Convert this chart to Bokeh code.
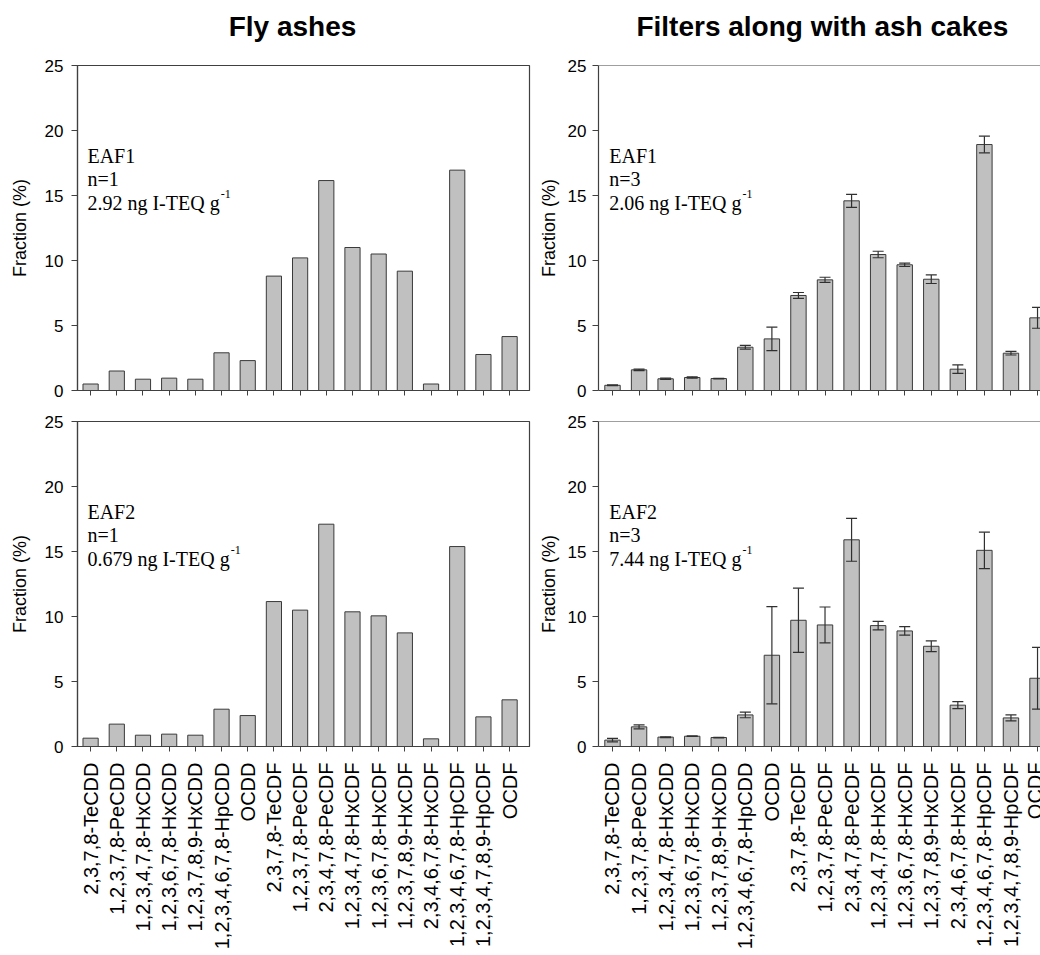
from bokeh.plotting import figure
from bokeh.models import (Range1d, FixedTicker, Label, Whisker, TeeHead,
                          ColumnDataSource, Span)
from bokeh.layouts import column, row
from bokeh.embed import file_html
from bokeh.resources import INLINE
import math

# ---------------- data ----------------
congeners = ["2,3,7,8-TeCDD", "1,2,3,7,8-PeCDD", "1,2,3,4,7,8-HxCDD",
             "1,2,3,6,7,8-HxCDD", "1,2,3,7,8,9-HxCDD", "1,2,3,4,6,7,8-HpCDD",
             "OCDD", "2,3,7,8-TeCDF", "1,2,3,7,8-PeCDF", "2,3,4,7,8-PeCDF",
             "1,2,3,4,7,8-HxCDF", "1,2,3,6,7,8-HxCDF", "1,2,3,7,8,9-HxCDF",
             "2,3,4,6,7,8-HxCDF", "1,2,3,4,6,7,8-HpCDF", "1,2,3,4,7,8,9-HpCDF",
             "OCDF"]

fly_eaf1 = [0.5, 1.5, 0.87, 0.95, 0.87, 2.9, 2.3, 8.8, 10.2, 16.15,
            11.0, 10.5, 9.18, 0.5, 16.95, 2.77, 4.15]
fly_eaf2 = [0.64, 1.72, 0.87, 0.95, 0.87, 2.87, 2.38, 11.15, 10.49, 17.1,
            10.36, 10.05, 8.74, 0.59, 15.38, 2.28, 3.59]

filt_eaf1 = [0.4, 1.59, 0.9, 1.0, 0.92, 3.33, 3.97, 7.31, 8.51, 14.59,
             10.46, 9.67, 8.56, 1.64, 18.92, 2.87, 5.59]
filt_eaf1_err = [0.03, 0.06, 0.05, 0.05, 0.02, 0.14, 0.9, 0.23, 0.2, 0.5,
                 0.25, 0.13, 0.33, 0.33, 0.64, 0.14, 0.8]
filt_eaf2 = [0.49, 1.51, 0.72, 0.79, 0.69, 2.43, 7.02, 9.71, 9.35, 15.9,
             9.3, 8.89, 7.71, 3.18, 15.09, 2.2, 5.25]
filt_eaf2_err = [0.13, 0.15, 0.03, 0.02, 0.02, 0.22, 3.74, 2.47, 1.38, 1.65,
                 0.33, 0.33, 0.41, 0.27, 1.4, 0.23, 2.38]

y_ticks = [0, 5, 10, 15, 20, 25]
titles = ["Fly ashes", "Filters along with ash cakes"]
notes = {
    "tl": ["EAF1", "n=1", "2.92 ng I-TEQ g"],
    "tr": ["EAF1", "n=3", "2.06 ng I-TEQ g"],
    "bl": ["EAF2", "n=1", "0.679 ng I-TEQ g"],
    "br": ["EAF2", "n=3", "7.44 ng I-TEQ g"],
}
sup_text = "-1"

# ---------------- style ----------------
AX = "#404040"
BAR_FILL = "#c0c0c0"
BAR_LINE = "#3a3a3a"
SANS = "Liberation Sans"
SERIF = "Liberation Serif"
STRIP_H = 50

# approx Times advance widths (em) for superscript placement
_tw = {"0": .5, "1": .5, "2": .5, "3": .5, "4": .5, "5": .5, "6": .5, "7": .5,
       "8": .5, "9": .5, ".": .25, " ": .25, "n": .5, "g": .5, "I": .333,
       "-": .333, "T": .611, "E": .611, "Q": .722}


def twidth(s, size):
    return sum(_tw.get(c, .5) for c in s) * size


def geom(right):
    if right:
        return Range1d(-0.527, 16.30), 447, 58, 0
    return Range1d(-0.5, 16.76), 452, 77, 6


def title_strip(text, right, xr, center_x):
    _, fw, mbl, mbr = geom(right)
    s = figure(x_range=xr, y_range=Range1d(0, 1), frame_width=fw,
               frame_height=STRIP_H, output_backend="svg",
               toolbar_location=None, x_axis_location=None,
               y_axis_location=None, min_border_left=mbl,
               min_border_right=mbr, min_border_top=0, min_border_bottom=0,
               background_fill_color="white", border_fill_color="white")
    s.grid.visible = False
    s.outline_line_color = None
    s.add_layout(Label(x=center_x, y=0.48, text=text, text_font=SANS,
                       text_font_style="bold", text_font_size="28px",
                       text_color="black", text_align="center",
                       text_baseline="alphabetic"))
    return s


def panel(values, errs, key, right=False, bottom=False):
    x = list(range(len(congeners)))
    xr, fw, mbl, mbr = geom(right)
    if bottom:
        mbt = 16 if right else 13
        mbb = 209 if right else 212
    else:
        mbt, mbb = 65 - STRIP_H, 15
    p = figure(x_range=xr, y_range=Range1d(0, 25), frame_width=fw,
               frame_height=325, output_backend="svg", toolbar_location=None,
               min_border_left=mbl, min_border_right=mbr,
               min_border_top=mbt, min_border_bottom=mbb,
               background_fill_color="white", border_fill_color="white")
    p.grid.visible = False
    if right:
        p.outline_line_color = None
        p.add_layout(Span(location=25, dimension="width", line_color=AX,
                          line_width=1.2))
    else:
        p.outline_line_color = AX
        p.outline_line_width = 1.2

    src = ColumnDataSource(dict(x=x, top=values))
    p.vbar(x="x", top="top", bottom=0, width=0.58, source=src,
           fill_color=BAR_FILL, line_color=BAR_LINE, line_width=1)

    if errs is not None:
        esrc = ColumnDataSource(dict(
            base=x,
            upper=[v + e for v, e in zip(values, errs)],
            lower=[v - e for v, e in zip(values, errs)]))
        p.add_layout(Whisker(
            base="base", upper="upper", lower="lower", source=esrc,
            level="overlay",
            line_color="#303030", line_width=1.2,
            upper_head=TeeHead(size=11, line_color="#303030", line_width=1.2),
            lower_head=TeeHead(size=11, line_color="#303030", line_width=1.2)))

    # axes
    p.xaxis.ticker = FixedTicker(ticks=x)
    p.xaxis.minor_tick_line_color = None
    p.xaxis.major_tick_in = 0
    p.xaxis.major_tick_out = 5
    p.xaxis.axis_line_color = AX
    p.xaxis.axis_line_width = 1.2
    p.xaxis.major_tick_line_color = AX
    if bottom:
        p.xaxis.major_label_overrides = {i: c for i, c in enumerate(congeners)}
        p.xaxis.major_label_orientation = math.pi / 2
        p.xaxis.major_label_text_font = SANS
        p.xaxis.major_label_text_font_size = "20px"
        p.xaxis.major_label_text_color = "black"
        p.xaxis.major_label_standoff = 11
    else:
        p.xaxis.major_label_overrides = {i: "" for i in x}
        p.xaxis.major_label_text_font_size = "1px"
        p.xaxis.major_label_standoff = 0

    p.yaxis.ticker = FixedTicker(ticks=y_ticks)
    p.yaxis.minor_tick_line_color = None
    p.yaxis.major_tick_in = 0
    p.yaxis.major_tick_out = 6
    p.yaxis.axis_line_color = AX
    p.yaxis.axis_line_width = 1.2
    p.yaxis.major_tick_line_color = AX
    p.yaxis.major_label_text_font = SANS
    p.yaxis.major_label_text_font_size = "17px"
    p.yaxis.major_label_text_color = "black"
    p.yaxis.major_label_standoff = 6 if right else 8
    p.yaxis.axis_label = "Fraction (%)"
    p.yaxis.axis_label_text_font = SANS
    p.yaxis.axis_label_text_font_style = "normal"
    p.yaxis.axis_label_text_font_size = "18px"
    p.yaxis.axis_label_text_color = "black"
    p.yaxis.axis_label_standoff = 6 if right else 12

    # annotation text
    lines = notes[key]
    ys = [18.05, 16.25, 14.45]
    for t, yy in zip(lines, ys):
        p.add_layout(Label(x=-0.12, y=yy, text=t, text_font=SERIF,
                           text_font_size="20px", text_color="black",
                           text_baseline="alphabetic", text_align="left"))
    p.add_layout(Label(x=-0.12, y=ys[2], text=sup_text, text_font=SERIF,
                       text_font_size="12px", text_color="black",
                       x_offset=twidth(lines[2], 20) + 1, y_offset=9,
                       text_baseline="alphabetic", text_align="left"))
    return p


p_tl = panel(fly_eaf1, None, "tl")
p_tr = panel(filt_eaf1, filt_eaf1_err, "tr", right=True)
p_bl = panel(fly_eaf2, None, "bl", bottom=True)
p_br = panel(filt_eaf2, filt_eaf2_err, "br", right=True, bottom=True)

s_l = title_strip(titles[0], False, p_tl.x_range, 7.71)
s_r = title_strip(titles[1], True, p_tr.x_range, 8.09)

layout = column(row(s_l, s_r), row(p_tl, p_tr), row(p_bl, p_br))

open("out.html", "w").write(file_html(layout, INLINE))
